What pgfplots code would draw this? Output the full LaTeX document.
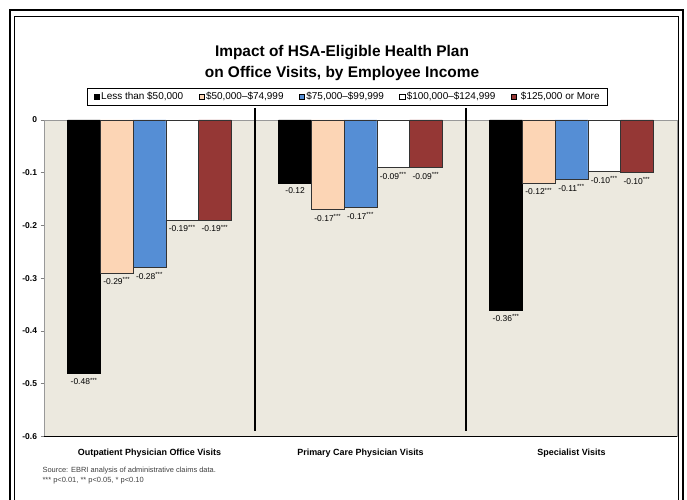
\documentclass[border=0pt]{standalone}
\usepackage{pgfplots}
\pgfplotsset{compat=1.18}
\usepackage{pgfplotstable}
\usepackage{fontspec}
\setmainfont{Liberation Sans}
\definecolor{bgc}{RGB}{236,233,223}
\definecolor{peach}{RGB}{252,213,181}
\definecolor{cblue}{RGB}{85,142,213}
\definecolor{cred}{RGB}{149,55,53}
\newcommand\st{\textsuperscript{\fontsize{6}{6}\selectfont***}}
\pgfplotsset{sqlegend/.style={legend image code/.code={\draw[##1,draw=black,line width=0.4bp] (0bp,-2.7bp) rectangle (5.4bp,2.7bp);}}}

\pgfplotstableread{
x y lab
0 -0.48 {-0.48\st}
1 -0.12 {-0.12}
2 -0.36 {-0.36\st}
}\tA
\pgfplotstableread{
x y lab
0 -0.29 {-0.29\st}
1 -0.17 {-0.17\st}
2 -0.12 {-0.12\st}
}\tB
\pgfplotstableread{
x y lab
0 -0.28 {-0.28\st}
1 -0.166 {-0.17\st}
2 -0.113 {-0.11\st}
}\tC
\pgfplotstableread{
x y lab
0 -0.19 {-0.19\st}
1 -0.09 {-0.09\st}
2 -0.098 {-0.10\st}
}\tD
\pgfplotstableread{
x y lab
0 -0.19 {-0.19\st}
1 -0.09 {-0.09\st}
2 -0.10 {-0.10\st}
}\tE

\begin{document}
\begin{tikzpicture}[x=1bp,y=1bp]
\useasboundingbox (0,0) rectangle (687,500);
% frame
\draw[line width=2.2bp] (10,-10) -- (10,490) -- (683,490) -- (683,-10);
\draw[line width=0.8bp] (14.5,-10) -- (14.5,483.5) -- (678.5,483.5) -- (678.5,-10);
% title
\node[font=\bfseries\fontsize{15.5}{21}\selectfont, align=center] at (342,437) {Impact of HSA-Eligible Health Plan\\on Office Visits, by Employee Income};
\begin{axis}[
  at={(44bp,63.5bp)}, anchor=south west,
  width=633bp, height=316.5bp, scale only axis,
  ybar=0pt, bar width=0.155,
  xmin=-0.5, xmax=2.5, ymin=-0.6, ymax=0,
  xtick={0,1,2},
  xticklabels={Outpatient Physician Office Visits, Primary Care Physician Visits, Specialist Visits},
  ytick={-0.6,-0.5,...,0},
  x tick style={draw=none},
  y tick style={draw=gray, line width=0.5bp},
  tick align=outside, major tick length=3.5bp,
  ytick pos=left, xtick pos=bottom,
  axis line style={draw=gray!80, line width=0.6bp},
  axis background/.style={fill=bgc},
  /pgf/number format/.cd, fixed, precision=1, assume math mode=true,
  /pgfplots/.cd,
  yticklabel style={font=\bfseries\fontsize{8.5}{9}\selectfont},
  xticklabel style={font=\bfseries\fontsize{9}{10}\selectfont, yshift=-5bp},
  clip=false,
  nodes near coords={\pgfplotspointmeta},
  point meta=explicit symbolic,
  every node near coord/.append style={font=\fontsize{8.5}{9}\selectfont, inner sep=1bp, anchor=north, yshift=-3.5bp, text=black},
  legend columns=5,
  legend style={at={(0.4795,1.0727)}, anchor=center, draw=black, line width=1bp,
    font=\fontsize{10}{11}\selectfont, inner ysep=2bp, inner xsep=6bp,
    nodes={inner xsep=1.5bp},
    /tikz/every odd column/.append style={column sep=0bp},
    /tikz/every even column/.append style={column sep=14bp}},
  legend cell align=left,
]
\addplot[fill=black, draw=black, line width=0.5bp, sqlegend] table[x=x,y=y,meta=lab] {\tA};
\addplot[fill=peach, draw=black!80, line width=0.5bp, sqlegend] table[x=x,y=y,meta=lab] {\tB};
\addplot[fill=cblue, draw=black!80, line width=0.5bp, sqlegend] table[x=x,y=y,meta=lab] {\tC};
\addplot[fill=white, draw=black!80, line width=0.5bp, sqlegend] table[x=x,y=y,meta=lab] {\tD};
\addplot[fill=cred, draw=black!80, line width=0.5bp, sqlegend] table[x=x,y=y,meta=lab] {\tE};
\legend{{Less than \$50,000}, {\$50,000--\$74,999}, {\$75,000--\$99,999}, {\$100,000--\$124,999}, {\ \$125,000 or More}}
\draw[line width=1.5bp] (axis cs:-0.5,-0.6) -- (axis cs:2.5,-0.6);
\draw[line width=1.2bp] (axis cs:0.5,0.023) -- (axis cs:0.5,-0.589);
\draw[line width=1.2bp] (axis cs:1.5,0.023) -- (axis cs:1.5,-0.589);
\end{axis}
\node[anchor=west, font=\fontsize{7.5}{9}\selectfont, text=black!75, align=left] at (39,29) {Source: EBRI analysis of administrative claims data.};
\node[anchor=west, font=\fontsize{7.5}{9}\selectfont, text=black!75, align=left] at (39,19) {*** p<0.01, ** p<0.05, * p<0.10};
\end{tikzpicture}
\end{document}
